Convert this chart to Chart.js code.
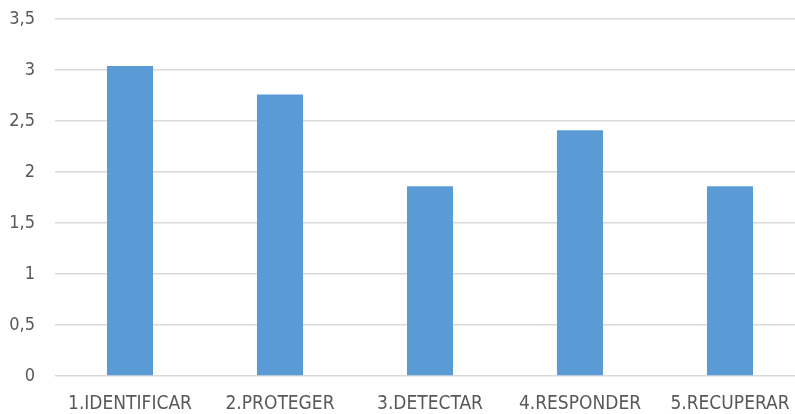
<!DOCTYPE html>
<html>
<head>
<meta charset="utf-8">
<script src="https://cdn.jsdelivr.net/npm/chart.js@4"></script>
<style>
  html, body { margin: 0; padding: 0; background: #fff; overflow: hidden; }
  #wrap { position: relative; width: 810px; height: 414px; }
</style>
</head>
<body>
<div id="wrap"><canvas id="c"></canvas></div>
<script>
// NIST CSF functions and their scores
const categories = ["1.IDENTIFICAR", "2.PROTEGER", "3.DETECTAR", "4.RESPONDER", "5.RECUPERAR"];
const scores = [3.04, 2.76, 1.86, 2.41, 1.86];
const yTicks = [0, 0.5, 1, 1.5, 2, 2.5, 3, 3.5];

const fontFamily = '"Liberation Sans Narrow", "DejaVu Sans Condensed", "Liberation Sans", sans-serif';

new Chart(document.getElementById("c"), {
  type: "bar",
  data: {
    labels: categories,
    datasets: [{
      data: scores,
      backgroundColor: "#5B9BD5",
      borderWidth: 0,
      categoryPercentage: 1,
      barPercentage: 0.307
    }]
  },
  options: {
    responsive: true,
    maintainAspectRatio: false,
    animation: false,
    layout: { padding: { top: 19, right: 5, left: 0, bottom: 0 } },
    plugins: { legend: { display: false }, tooltip: { enabled: false } },
    scales: {
      x: {
        grid: { display: false, drawTicks: false },
        border: { display: false },
        afterFit: (s) => { s.height = 38; s.paddingLeft = 0; s.paddingRight = 0; },
        ticks: {
          color: "#595959",
          font: { family: fontFamily, size: 19 },
          padding: 17,
          maxRotation: 0,
          autoSkip: false
        }
      },
      y: {
        min: 0,
        max: 3.5,
        afterBuildTicks: (scale) => { scale.ticks = yTicks.map(v => ({ value: v })); },
        afterFit: (s) => { s.width = 55; s.paddingTop = 0; s.paddingBottom = 0; },
        grid: { color: "#d9d9d9", lineWidth: 1.5, drawTicks: false },
        border: { display: false },
        ticks: {
          color: "#595959",
          font: { family: fontFamily, size: 18 },
          padding: 20,
          callback: (v) => String(v).replace(".", ",")
        }
      }
    }
  }
});
</script>
</body>
</html>
